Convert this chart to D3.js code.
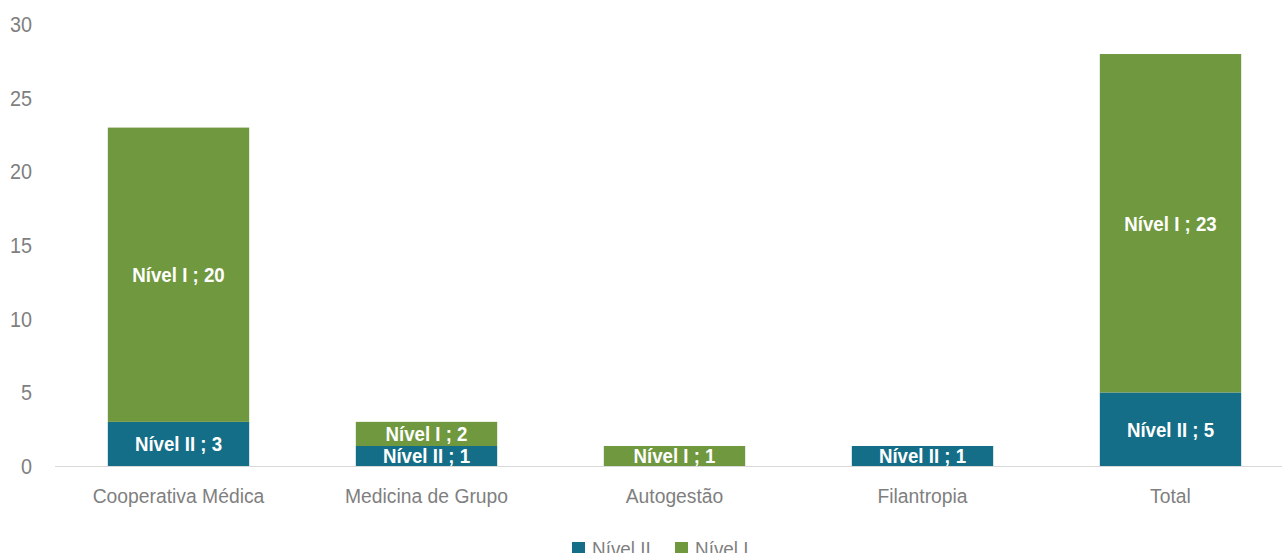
<!DOCTYPE html>
<html><head><meta charset="utf-8">
<script src="https://cdn.jsdelivr.net/npm/d3@7"></script>
<style>body{margin:0;background:#fff;overflow:hidden}svg{display:block}</style>
</head><body>
<script>
const categories = ["Cooperativa Médica","Medicina de Grupo","Autogestão","Filantropia","Total"];
const series = ["Nível II","Nível I"];
// bar heights as drawn in the picture
const nivel2Values = [3, 1.36, 0, 1.36, 5];
const nivel1Values = [20, 1.64, 1.36, 0, 23];
// numbers shown in the data labels
const nivel2Labels = [3, 1, null, 1, 5];
const nivel1Labels = [20, 2, 1, null, 23];
const yTicks = [0,5,10,15,20,25,30];
const colors = ["#146e87","#70983e"];

const W = 1282, H = 553;
const font = "'Liberation Sans','Arial',sans-serif";
const SX = 0.9; // horizontal condensing
const svg = d3.select("body").append("svg").attr("width",W).attr("height",H);
const x = d3.scaleBand().domain(categories).range([54.5,1294.5]).paddingInner(0.43).paddingOuter(0.215);
const y = d3.scaleLinear().domain([0,30]).range([466,24.6]);

function ctext(g, tx, ty, str, opts) {
  const t = g.append("text")
    .attr("transform", `translate(${tx},${ty}) scale(${opts.sx||SX},1)`)
    .attr("dy", opts.dy || "0.35em")
    .attr("text-anchor", opts.anchor || "middle")
    .attr("font-family", font)
    .attr("font-size", opts.size)
    .attr("font-weight", opts.weight || "normal")
    .attr("fill", opts.fill)
    .text(str);
  return t;
}

// baseline
svg.append("line").attr("x1",55).attr("x2",W).attr("y1",y(0)+0.5).attr("y2",y(0)+0.5)
  .attr("stroke","#d9d9d9").attr("stroke-width",1);

// y tick labels
yTicks.forEach(d=>ctext(svg, 32, y(d), d, {anchor:"end", size:22, fill:"#7f7f7f"}));

// x labels
categories.forEach(c=>ctext(svg, x(c)+x.bandwidth()/2, 496, c, {size:21, fill:"#7f7f7f", sx:0.92}));

const rows = categories.map((c,i)=>({cat:c, "Nível II":nivel2Values[i], "Nível I":nivel1Values[i]}));
const stack = d3.stack().keys(series)(rows);
const labels = [nivel2Labels, nivel1Labels];
const defs = svg.append("defs");
stack.forEach((layer,si)=>{
  layer.forEach((d,i)=>{
    const v = d[1]-d[0];
    if (v<=0) return;
    const bx = x(categories[i]), bw = x.bandwidth();
    const by = y(d[1]), bh = y(d[0])-y(d[1]);
    svg.append("rect").attr("x",bx).attr("y",by).attr("width",bw).attr("height",bh).attr("fill",colors[si]);
    const id = "clip"+si+"_"+i;
    defs.append("clipPath").attr("id",id).attr("clipPathUnits","userSpaceOnUse")
      .append("rect").attr("x",bx).attr("y",by).attr("width",bw).attr("height",bh);
    if (labels[si][i]!=null) {
      const g = svg.append("g").attr("clip-path","url(#"+id+")");
      ctext(g, bx+bw/2, by+bh/2, series[si]+" ; "+labels[si][i], {size:21, weight:"bold", fill:"#fff", sx:0.89});
    }
  });
});

// legend
const leg = svg.append("g");
const legItems = [{t:"Nível II",c:colors[0],x:572},{t:"Nível I",c:colors[1],x:675}];
legItems.forEach(it=>{
  leg.append("rect").attr("x",it.x).attr("y",542).attr("width",13).attr("height",11).attr("fill",it.c);
  ctext(leg, it.x+20, 549, it.t, {anchor:"start", size:21, fill:"#7f7f7f", sx:0.9});
});
</script>
</body></html>
